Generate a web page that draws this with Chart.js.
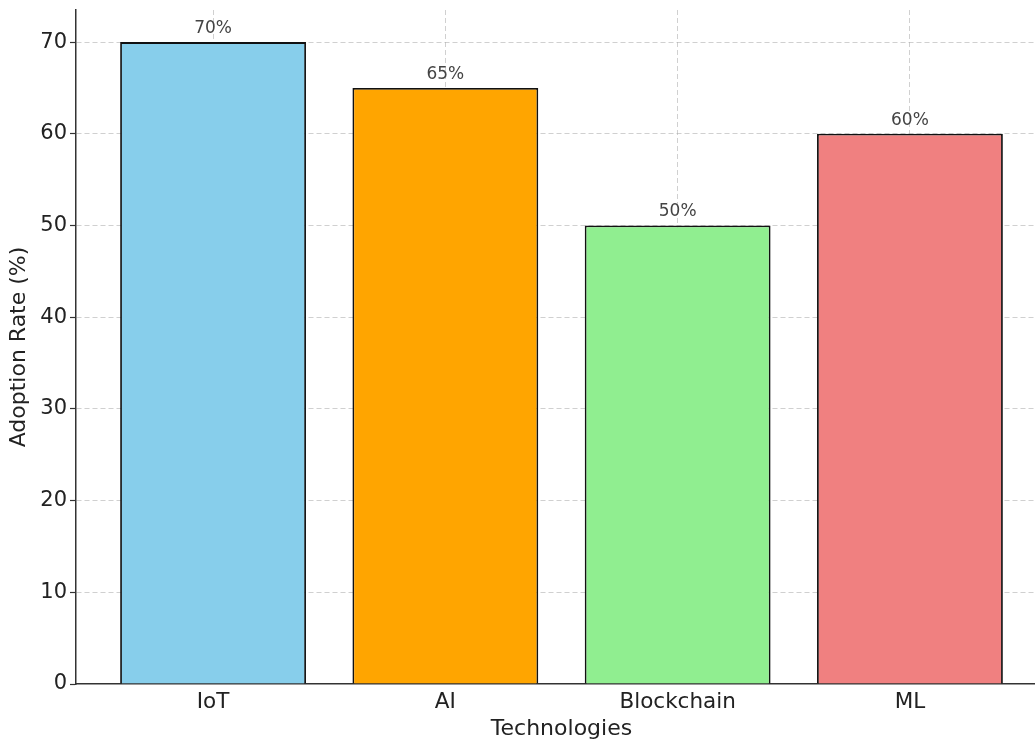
<!DOCTYPE html>
<html>
<head>
<meta charset="utf-8">
<title>Adoption Rate by Technology</title>
<script src="https://cdn.jsdelivr.net/npm/chart.js@4"></script>
<style>
  html, body { margin: 0; padding: 0; background: #fff; overflow: hidden; }
  #wrap { position: absolute; left: 0; top: 0; width: 1060px; height: 742px; }
</style>
</head>
<body>
<div id="wrap"><canvas id="myChart"></canvas></div>
<script>
// data
var categories = ['IoT', 'AI', 'Blockchain', 'ML'];
var adoptionRates = [70, 65, 50, 60];
var barColors = ['#87CEEB', '#FFA500', '#90EE90', '#F08080'];
var yTicks = [0, 10, 20, 30, 40, 50, 60, 70];

var FONT = "'DejaVu Sans', sans-serif";

// writes "70%" etc above each bar
var valueLabels = {
  id: 'valueLabels',
  afterDatasetsDraw: function(chart) {
    var ctx = chart.ctx;
    var meta = chart.getDatasetMeta(0);
    ctx.save();
    ctx.font = '17px ' + FONT;
    ctx.fillStyle = '#444';
    ctx.textAlign = 'center';
    ctx.textBaseline = 'alphabetic';
    meta.data.forEach(function(bar, i) {
      ctx.fillText(adoptionRates[i] + '%', bar.x, bar.y - 9);
    });
    ctx.restore();
  }
};

var ctx = document.getElementById('myChart').getContext('2d');
var chart = new Chart(ctx, {
  type: 'bar',
  data: {
    datasets: [{
      label: 'Adoption Rate (%)',
      data: adoptionRates.map(function(v, i) { return { x: i, y: v }; }),
      backgroundColor: barColors,
      borderColor: '#111',
      borderWidth: 1.8,
      barPercentage: 0.8,
      categoryPercentage: 1.0
    }]
  },
  options: {
    responsive: true,
    maintainAspectRatio: false,
    animation: false,
    layout: { padding: { top: 10, right: 13, left: 0, bottom: 0 } },
    plugins: {
      legend: { display: false },
      tooltip: { enabled: false }
    },
    scales: {
      x: {
        type: 'linear',
        min: -0.59,
        max: 3.59,
        offset: false,
        z: 1,
        ticks: {
          stepSize: 1,
          includeBounds: false,
          autoSkip: false,
          maxRotation: 0,
          padding: 6,
          color: '#222',
          font: { family: FONT, size: 21.5 },
          callback: function(v) { return categories[v]; }
        },
        grid: {
          offset: false,
          color: 'rgba(170,170,170,0.55)',
          lineWidth: 1,
          drawTicks: false
        },
        border: { display: true, color: '#333', width: 1.5, dash: [5, 3] },
        title: {
          display: true,
          text: 'Technologies',
          color: '#222',
          font: { family: FONT, size: 22 },
          padding: { top: 0, bottom: 0 }
        },
        afterFit: function(scale) {
          scale.height = 58;
          scale.paddingLeft = 0;
          scale.paddingRight = 0;
        }
      },
      y: {
        min: 0,
        max: 73.5,
        z: 1,
        afterBuildTicks: function(scale) {
          scale.ticks = yTicks.map(function(v) { return { value: v }; });
        },
        ticks: {
          padding: 3,
          color: '#222',
          font: { family: FONT, size: 21 }
        },
        grid: {
          color: function(c) { return c.tick && c.tick.value === 0 ? 'rgba(0,0,0,0)' : 'rgba(170,170,170,0.55)'; },
          lineWidth: 1,
          drawTicks: true,
          tickLength: 6,
          tickColor: '#333',
          tickWidth: 1.2,
          tickBorderDash: []
        },
        border: { display: true, color: '#333', width: 1.5, dash: [5, 3] },
        title: {
          display: true,
          text: 'Adoption Rate (%)',
          color: '#222',
          font: { family: FONT, size: 22 },
          padding: { top: 6, bottom: 0 }
        },
        afterFit: function(scale) {
          scale.width = 76;
          scale.paddingTop = 0;
          scale.paddingBottom = 0;
        }
      }
    }
  },
  plugins: [valueLabels]
});
</script>
</body>
</html>
